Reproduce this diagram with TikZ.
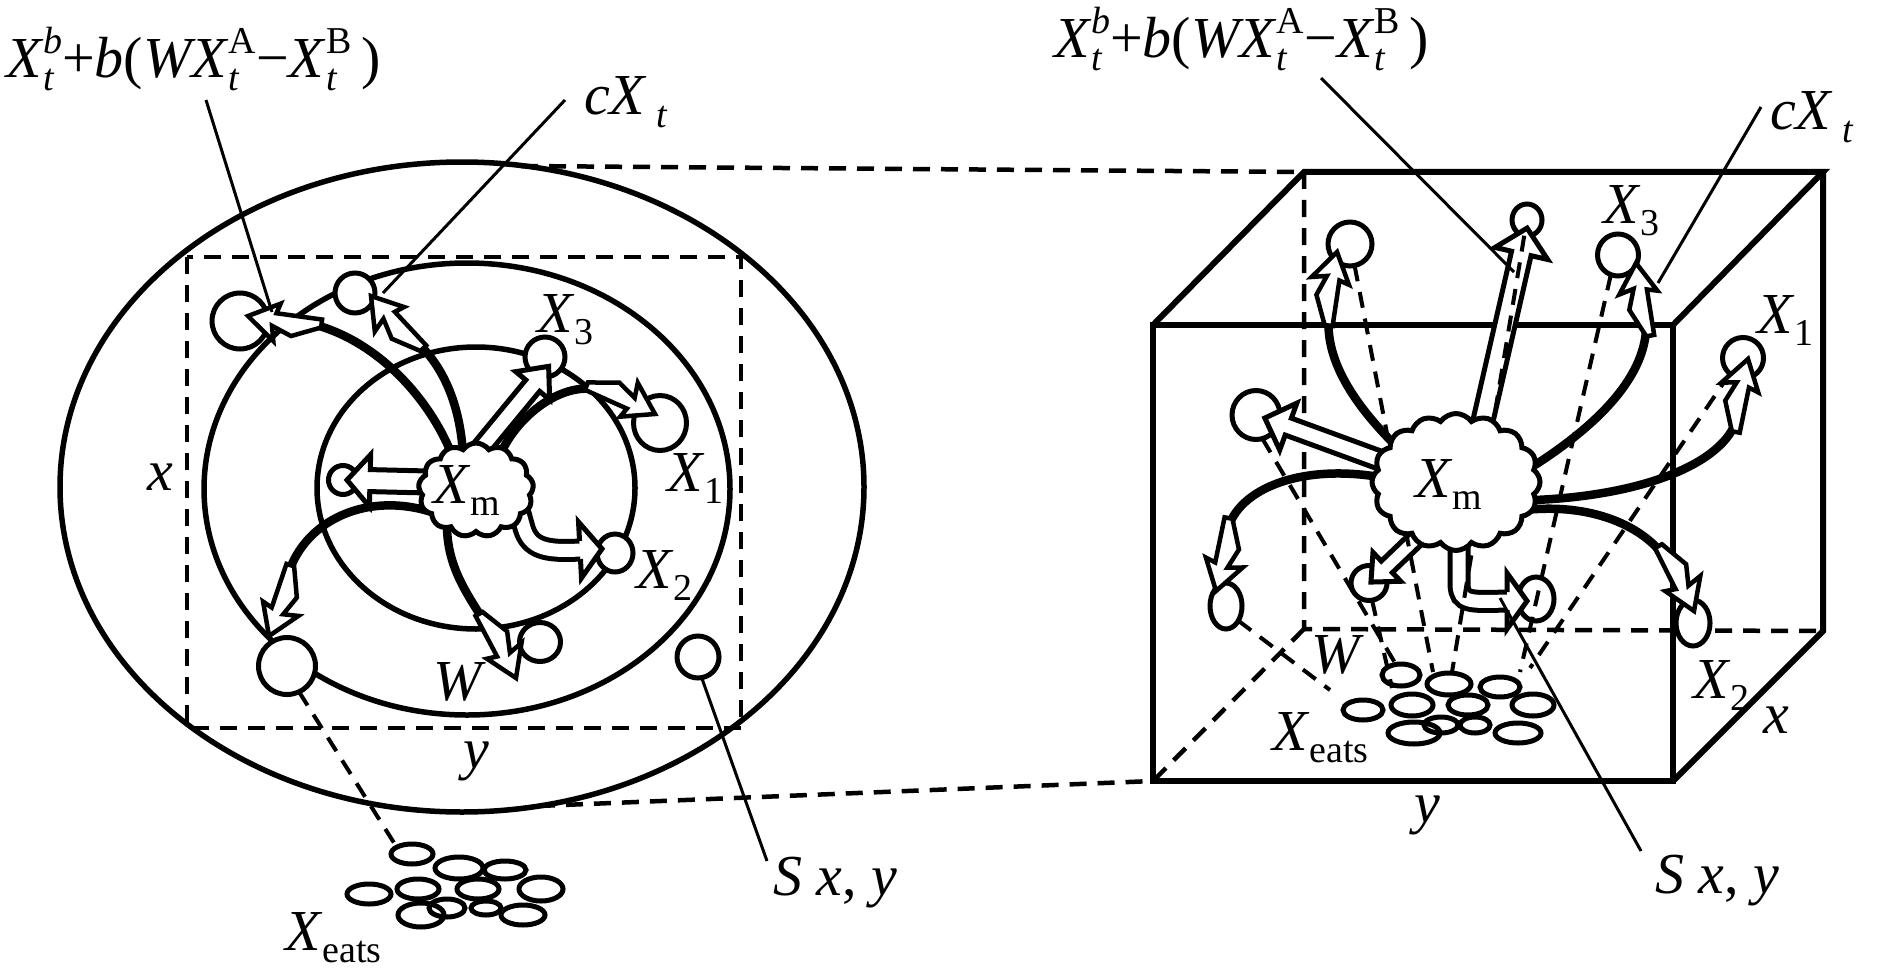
\documentclass[tikz,border=0pt]{standalone}
\usepackage{fontspec}
\setmainfont{Liberation Serif}[ItalicFont={Liberation Serif Italic}, BoldFont={Liberation Serif Bold}]
\usetikzlibrary{shapes.geometric,shapes.symbols}
\newcommand\mainf{\fontsize{16.5pt}{19pt}\selectfont}
\newcommand\subf{\fontsize{10.8pt}{12pt}\selectfont}
\newcommand\sbsp[2]{\begingroup\subf\setbox0=\hbox{\raisebox{7pt}{#2}}\setbox2=\hbox{\raisebox{-3.5pt}{#1}}\ifdim\wd0>\wd2 \rlap{\box2}\box0\else\rlap{\box0}\box2\fi\endgroup}
\newcommand\sbonly[1]{{\subf\raisebox{-3.5pt}{#1}}}
\newcommand\formula{\textit{X}\sbsp{\textit{t}}{\textit{b}}+\textit{b}(\textit{WX}\sbsp{\textit{t}}{A}−\textit{X}\sbsp{\textit{t}}{B}\,)}
\newcommand\cxt{\textit{cX}\,\sbonly{\textit{t}}}
\tikzset{
 pics/bolt/.style={code={\draw[boltline] (0,0) -- (-28,-22) -- (-25,-7) -- (-45,-15) -- (-74,-3) -- (-74,5) -- (-28,6) -- (-31,16) -- cycle;}},
 pics/harrow/.style args={#1/#2/#3/#4}{code={\filldraw[harrowline] (0,-#2) -- ({#1-#4},-#2) -- ({#1-#4},-#3) -- (#1,0) -- ({#1-#4},#3) -- ({#1-#4},#2) -- (0,#2);}},
 pics/hhead/.style args={#1/#2/#3}{code={\filldraw[harrowline] (0,-#3) -- (0,-#1) -- (#2,0) -- (0,#1) -- (0,#3);}},
}
\begin{document}
\begin{tikzpicture}[x=0.1mm,y=-0.1mm,
  every node/.style={inner sep=0pt, outer sep=0pt},
  lbl/.style={font=\mainf, anchor=base west},
  ring/.style 2 args={ellipse, draw, fill=white, line width=0.5mm, minimum width=#1, minimum height=#2},
  bigell/.style={line width=0.55mm},
  boxline/.style={line width=0.6mm, line join=miter},
  hidden/.style={line width=0.45mm, dash pattern=on 1.7mm off 1.1mm},
  proj/.style={line width=0.4mm, dash pattern=on 1.6mm off 1.1mm},
  pointer/.style={line width=0.3mm},
  arcline/.style={line width=0.85mm},
  boltline/.style={line width=0.45mm, fill=white, line join=miter},
  harrowline/.style={line width=0.5mm, fill=white, line join=miter},
  hline/.style={line width=0.5mm, double=white, double distance=1.3mm},
  oval/.style={line width=0.5mm},
  cloudy/.style={cloud, draw, fill=white, line width=0.5mm, cloud puffs=#1, cloud puff arc=110, cloud ignores aspect},
]
\useasboundingbox (0,0) rectangle (1890,972);
\fill[white] (0,0) rectangle (1890,972);

% ---- left: ellipses and dashed square
\coordinate (oC) at (462,487);
\coordinate (mC) at (467,489);
\coordinate (iC) at (476,488);
\draw[bigell] (oC) ellipse [x radius=40.2mm, y radius=32.5mm];
\draw[bigell] (mC) ellipse [x radius=26.3mm, y radius=22.6mm];
\draw[bigell] (iC) ellipse [x radius=15.9mm, y radius=14.1mm];
\coordinate (rTL) at (187,257);
\coordinate (rBR) at (741,728);
\draw[hidden] (rTL) rectangle (rBR);

% ---- box corners
\coordinate (F1) at (1153,325);
\coordinate (F2) at (1673,325);
\coordinate (F3) at (1673,781);
\coordinate (F4) at (1153,781);
\coordinate (B1) at (1304,172);
\coordinate (B2) at (1823,172);
\coordinate (B3) at (1823,631);
\coordinate (B4) at (1304,629);

% ---- dashed connectors ellipse -> box
\coordinate (eTop) at (521,166);
\coordinate (eBot) at (538,806);
\draw[hidden] (eTop) -- (B1);
\draw[hidden] (eBot) -- (F4);

% ---- box
\draw[hidden] (B1) -- (B4) -- (B3);
\draw[hidden] (B4) -- (F4);
\draw[boxline] (F1) -- (F2) -- (F3) -- (F4) -- cycle;
\draw[boxline] (F1) -- (B1) -- (B2) -- (F2);
\draw[boxline] (B2) -- (B3) -- (F3);

% ---- X_eats clusters
\foreach \x/\y/\a/\b in {412/854/21/10, 459/868/24/11, 505/870/21/9, 369/894/22/10, 418/889/21/10, 478/889/21/10, 541/889/22/12, 447/908/18/9, 486/908/15/7, 421/915/23/12, 523/915/22/10,
 1401/675/19/11, 1449/684/22/11, 1500/687/20/10, 1363/710/20/10, 1412/705/21/11, 1468/705/20/10, 1533/705/21/11, 1441/725/17/8, 1475/725/15/8, 1414/733/26/11, 1518/733/23/10}
  \draw[oval] (\x,\y) ellipse [x radius=\a*0.1mm, y radius=\b*0.1mm];

% ---- left circles
\node[ring={5.6mm}{5.6mm}] (cA) at (240,321) {};
\node[ring={4.0mm}{4.0mm}] (cB) at (355,293) {};
\node[ring={4.0mm}{4.0mm}] (cC) at (545,357) {};
\node[ring={5.3mm}{5.5mm}] (cD) at (660,423) {};
\node[ring={2.9mm}{2.9mm}] (cE) at (343,480) {};
\node[ring={3.6mm}{3.8mm}] (cF) at (615,553) {};
\node[ring={4.1mm}{3.9mm}] (cG) at (540,642) {};
\node[ring={5.7mm}{5.7mm}] (cH) at (287,666) {};
\node[ring={4.2mm}{4.2mm}] (cS) at (698,657) {};

% ---- right circles
\node[ring={4.4mm}{4.4mm}] (rA) at (1350,244) {};
\node[ring={3.0mm}{3.2mm}] (rB) at (1527,220) {};
\node[ring={4.1mm}{4.2mm}] (rC) at (1618,255) {};
\node[ring={4.1mm}{4.1mm}] (rD) at (1743,358) {};
\node[ring={4.8mm}{4.9mm}] (rE) at (1256,415) {};
\node[ring={3.2mm}{4.6mm}] (rF) at (1226,606) {};
\node[ring={3.6mm}{3.5mm}] (rG) at (1369,583) {};
\node[ring={3.6mm}{4.4mm}] (rH) at (1536,599) {};
\node[ring={3.4mm}{4.6mm}] (rI) at (1693,623) {};

% ---- hollow straight arrows
\pic[rotate=50.5] at (478,452) {harrow=111/9/22/25};
\pic[rotate=178.6] at (428,482) {harrow=81/11/26/23};
\pic[rotate=159.9] at (1385,462) {harrow=128/9/25/25};
\pic[rotate=77.1] at (1482,425) {harrow=202/10/27/26};
\pic[rotate=-136.2] at (1420,535) {harrow=68/8/20/22};
% ---- hollow bent arrows
\draw[hline] (512,485) -- (524,528) .. controls (530,548) and (545,552) .. (580,550);
\pic[rotate=3] at (580,550) {hhead=28/22/9};
\draw[hline] (1459,540) -- (1459,585) .. controls (1460,603) and (1470,602) .. (1507,601);
\pic[rotate=0] at (1507,601) {hhead=28/20/9};

% ---- projection lines in the box
\draw[proj] (rA.-78) -- (1433,672);
\draw[proj] (rB.-100) -- (1452,672);
\draw[proj] (rC.-110) -- (1520,672);
\draw[proj] (rD.-130) -- (1530,668);
\draw[proj] (rE.-75) -- (1398,668);
\draw[proj] (rF.-50) -- (1330,690);
\draw[proj] (rG.-80) -- (1392,688);

% ---- curved arrows, left
\draw[arcline] (452,455) .. controls (428,395) and (372,335) .. (303,322);
\pic[rotate=173.4] at (248,316) {bolt};
\draw[arcline] (463,455) .. controls (460,400) and (440,360) .. (410,336);
\pic[rotate=134.3] at (371,296) {bolt};
\draw[arcline] (500,455) .. controls (520,410) and (570,378) .. (603,392);
\pic[rotate=-22.9] at (655,414) {bolt};
\draw[arcline] (440,515) .. controls (370,488) and (300,520) .. (286,582);
\pic[rotate=252.5] at (269,636) {bolt};
\draw[arcline] (447,528) .. controls (448,572) and (472,600) .. (488,628);
\pic[rotate=-60.8] at (516,678) {bolt};

% ---- curved arrows, right
\draw[arcline] (1395,445) .. controls (1345,395) and (1322,350) .. (1330,307);
\pic[rotate=82.7] at (1337,252) {bolt};
\draw[arcline] (1535,465) .. controls (1605,420) and (1650,370) .. (1646,318);
\pic[rotate=100.3] at (1636,263) {bolt};
\draw[arcline] (1535,500) .. controls (1650,495) and (1730,460) .. (1738,414);
\pic[rotate=79.7] at (1748,359) {bolt};
\draw[arcline] (1385,478) .. controls (1300,462) and (1232,490) .. (1226,537);
\pic[rotate=-100.5] at (1216,591) {bolt};
\draw[arcline] (1525,510) .. controls (1590,503) and (1645,525) .. (1668,562);
\pic[rotate=-62] at (1694,611) {bolt};

% ---- clouds
\node[cloudy=13, minimum width=11.5mm, minimum height=9.4mm] (XmL) at (476,490) {};
\node[cloudy=16, minimum width=16.8mm, minimum height=13.7mm] (XmR) at (1456,482) {};

% ---- labels
\node[lbl] (fL) at (6,78) {\formula};
\node[lbl] (cxL) at (584,115) {\cxt};
\node[lbl] (x3L) at (537,332) {\textit{X}\sbonly{3}};
\node[lbl] (x1L) at (667,491) {\textit{X}\sbonly{1}};
\node[lbl] (x2L) at (636,588) {\textit{X}\sbonly{2}};
\node[lbl] (wL) at (433,700) {\textit{W}};
\node[lbl] (xL) at (147,490) {\textit{x}};
\node[lbl] (yL) at (463,768) {\textit{y}};
\node[lbl] (sL) at (773,895) {\textit{S x}, \textit{y}};
\node[lbl] (eL) at (285,950) {\textit{X}\sbonly{eats}};
\node[lbl] (xmL) at (433,503) {\textit{X}\sbonly{m}};
\node[lbl] (fR) at (1054,58) {\formula};
\node[lbl] (cxR) at (1770,130) {\cxt};
\node[lbl] (x3R) at (1603,223) {\textit{X}\sbonly{3}};
\node[lbl] (x1R) at (1757,333) {\textit{X}\sbonly{1}};
\node[lbl] (x2R) at (1693,698) {\textit{X}\sbonly{2}};
\node[lbl] (xR) at (1763,733) {\textit{x}};
\node[lbl] (yR) at (1414,822) {\textit{y}};
\node[lbl] (wR) at (1311,673) {\textit{W}};
\node[lbl] (eR) at (1272,750) {\textit{X}\sbonly{eats}};
\node[lbl] (sR) at (1655,893) {\textit{S x}, \textit{y}};
\node[lbl] (xmR) at (1415,497) {\textit{X}\sbonly{m}};

% ---- pointer lines
\coordinate (pfL) at (206,100);  \coordinate (pfLe) at (272,312);
\coordinate (pcL) at (565,100);  \coordinate (pcLe) at (383,293);
\coordinate (psL) at (767,861);
\coordinate (peL) at (396,846);
\draw[pointer] (pfL) -- (pfLe);
\draw[pointer] (pcL) -- (pcLe);
\draw[pointer] (cS.-80) -- (psL);
\draw[proj] (cH.-65) -- (peL);
\coordinate (pfR) at (1321,78);  \coordinate (pfRe) at (1514,272);
\coordinate (pcR) at (1761,107); \coordinate (pcRe) at (1658,283);
\coordinate (psR) at (1500,598); \coordinate (psRe) at (1641,851);
\draw[pointer] (pfR) -- (pfRe);
\draw[pointer] (pcR) -- (pcRe);
\draw[pointer] (psR) -- (psRe);
\end{tikzpicture}
\end{document}
